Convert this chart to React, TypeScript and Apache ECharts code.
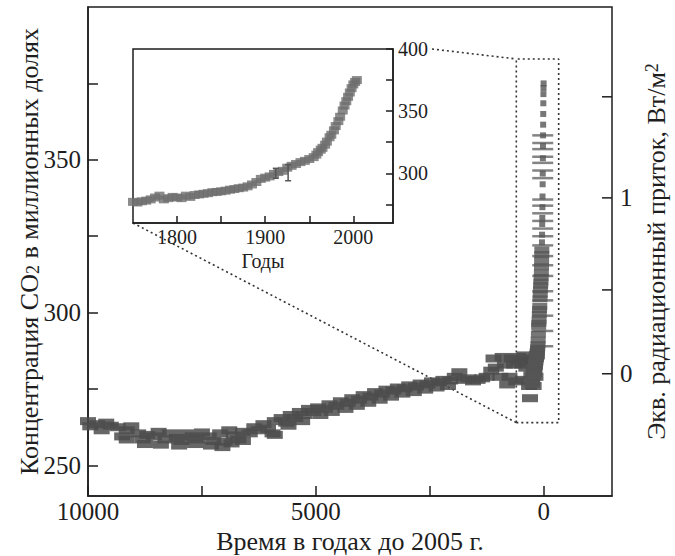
import React, { useEffect, useRef } from "react";
import * as echarts from "echarts";

// ---------- Data ----------
// Pre-industrial ice-core CO2 (years before 2005, ppm)
const iceYears = [
  10000, 9950, 9800, 9700, 9600, 9500, 9350, 9250, 9150, 9050, 8900, 8800, 8700, 8550, 8450, 8300,
  8200, 8050, 7950, 7850, 7700, 7600, 7500, 7350, 7250, 7100, 7000, 6900, 6800, 6700, 6600, 6450,
  6350, 6250, 6150, 6050, 5950, 5900, 5750, 5650, 5550, 5450, 5350, 5250, 5150, 5050, 4950, 4800,
  4700, 4550, 4450, 4300, 4200, 4050, 3950, 3800, 3700, 3550, 3450, 3300, 3200, 3050, 2950, 2800,
  2700, 2550, 2450, 2300, 2200, 2050, 1950, 1850, 1750, 1650, 1550, 1450, 1350, 1250, 1150, 1050,
  950, 850, 750, 650, 600, 520, 450, 380, 320, 300, 270,
  // second row of overlapping cores
  9150, 8750, 8400, 8000, 7650, 7300, 7050, 6850, 6600, 5900, 5600, 5300, 4900, 4650, 4350, 4100,
  3850, 3600, 3350, 3100, 2850, 2600, 2350, 2100, 1100, 900, 800, 700, 560, 480, 420, 350, 250,
  220, 200, 180, 150,
];
const icePpm = [
  264.5, 262.8, 263.5, 261.5, 264, 263, 262.5, 259.5, 261.5, 262.8, 260.5, 258.5, 260, 259.5, 261, 258.5,
  260.5, 259, 258, 260.5, 259.5, 258.5, 260.8, 259.5, 258, 260.5, 257.8, 261.5, 259.8, 258.5, 261, 260.5,
  262.5, 261.5, 263.5, 262, 260.5, 264.5, 265.5, 264, 266.5, 265.5, 267.5, 266.5, 268.5, 267.5, 269, 268.5,
  270, 269.5, 271, 270.5, 272, 271.5, 273, 272.5, 274, 273.5, 274.8, 274.5, 275.5, 275.2, 276.2, 275.8,
  276.8, 276.5, 277.5, 277.2, 278, 277.8, 279, 280.5, 278, 278.5, 277.5, 278, 278.5, 279, 281, 282,
  279, 283, 279, 283, 277.5, 284, 278, 282, 276, 272, 279.5,
  258.5, 257, 256.8, 256.5, 257, 256.5, 256, 257.2, 258, 260, 263, 264.5, 266.5, 267.5, 268.5, 269.5,
  270.5, 271.5, 272.5, 273.5, 274, 274.8, 275.5, 276, 285, 285.5, 276.5, 285, 285.5, 283, 286, 284, 285,
  276, 282.5, 279, 286,
];

// Industrial era (calendar year, ppm) — shown in the inset and in the spike
const indYears = [
  1750, 1755, 1760, 1765, 1770, 1775, 1780, 1785, 1790, 1795, 1800, 1805, 1810, 1815, 1820, 1825,
  1830, 1835, 1840, 1845, 1850, 1855, 1860, 1865, 1870, 1875, 1880, 1885, 1890, 1895, 1900, 1905,
  1910, 1915, 1920, 1925, 1930, 1935, 1940, 1945, 1950, 1955, 1958, 1960, 1963, 1965, 1968, 1970,
  1973, 1975, 1978, 1980, 1983, 1985, 1988, 1990, 1992, 1994, 1996, 1998, 2000, 2002, 2004,
];
const indPpm = [
  277, 276.5, 277.5, 278, 279, 280.5, 282, 279, 280, 281, 280.5, 280, 282, 281, 282.5, 283,
  283.5, 284, 284.8, 285, 285.5, 286, 286.8, 287.3, 288, 288.5, 289.5, 291, 293, 295.5, 296.5, 297.5,
  299.5, 301, 302, 304.5, 306, 307.5, 309, 310, 311.5, 313, 315, 317, 319, 320.5, 323, 325.5,
  329, 331, 334.5, 338, 342, 345.5, 350.5, 354.5, 358, 361.5, 365, 368.5, 371.5, 373.5, 375,
];

// Inset error bars: year, low, high (ppm)
const errYears = [1912, 1926];
const errLow = [296, 294];
const errHigh = [304, 307];

// Horizontal uncertainty dashes seen on the spike (years before 2005, ppm)
const dashYear = 20;
const dashPpm = [
  358, 355.5, 353.5, 351, 349, 346.5, 344, 337, 335, 332.5, 330, 327.5, 325, 322, 318.5, 315.5,
  312, 307, 304, 299, 294, 289,
];

// Zoom box in main panel (years before 2005, ppm)
const zoomBoxYears = [600, -330];
const zoomBoxPpm = [264, 383];

// Axis ticks
const mainXTicks = [0, 2500, 5000, 7500, 10000];
const mainXLabels = [0, 5000, 10000];
const mainYTicks = [250, 275, 300, 325, 350, 375];
const mainYLabels = [250, 300, 350];
const forcingTicks = [0, 0.5, 1, 1.5];
const forcingLabels = [0, 1];
const insetXTicks = [1800, 1850, 1900, 1950, 2000];
const insetXLabels = [1800, 1900, 2000];
const insetYTicks = [275, 300, 325, 350, 375, 400];
const insetYLabels = [300, 350, 400];

const C0 = 280; // reference concentration for forcing
const forcingToPpm = (f: number) => C0 * Math.exp(f / 5.35);

const FONT = "Liberation Serif";
const INK = "#1e1e1e";
const TICK_FS = 25;
const NAME_FS = 26;
const INSET_FS = 20;
const X_MIN = -1500;
const X_MAX = 10000;

export default function App() {
  const ref = useRef<HTMLDivElement>(null);

  useEffect(() => {
    const chart = echarts.init(ref.current!, null, { renderer: "svg" });

    const iceData = iceYears.map((y, i) => [y, icePpm[i]]);
    const spikeData = indYears.map((y, i) => [2005 - y, indPpm[i]]);
    const insetData = indYears.map((y, i) => [y, indPpm[i]]);
    const errData = errYears.map((y, i) => [y, errLow[i], errHigh[i]]);
    const dashData = dashPpm.map((p) => [dashYear, p]);
    const forcingTickData = forcingTicks.map((f) => [X_MIN, forcingToPpm(f), forcingLabels.indexOf(f) >= 0 ? String(f) : ""]);
    const boxData = [
      [zoomBoxYears[0], zoomBoxPpm[0]],
      [zoomBoxYears[1], zoomBoxPpm[0]],
      [zoomBoxYears[1], zoomBoxPpm[1]],
      [zoomBoxYears[0], zoomBoxPpm[1]],
      [zoomBoxYears[0], zoomBoxPpm[0]],
    ];

    const labelStyle = (size: number) => ({
      fontFamily: FONT,
      fontSize: size,
      color: INK,
    });
    const line = { show: true, onZero: false, lineStyle: { color: INK, width: 1.5 } };
    const plain = (v: number) => String(v);

    const option: any = {
      animation: false,
      backgroundColor: "#fff",
      grid: [
        {
          left: 88,
          top: 7,
          right: 63,
          bottom: 60,
          outerBoundsMode: "none",
          containLabel: false,
          show: true,
          borderColor: INK,
          borderWidth: 1.5,
          backgroundColor: "transparent",
        },
        {
          left: 133,
          top: 49,
          width: 260,
          height: 174,
          outerBoundsMode: "none",
          containLabel: false,
          show: true,
          borderColor: INK,
          borderWidth: 1.5,
          backgroundColor: "transparent",
        },
      ],
      xAxis: [
        {
          gridIndex: 0,
          type: "value",
          inverse: true,
          min: X_MIN,
          max: X_MAX,
          axisLine: line,
          axisTick: {
            show: true,
            inside: true,
            length: 10,
            customValues: mainXTicks,
            lineStyle: { color: INK, width: 1.5 },
          },
          axisLabel: {
            ...labelStyle(TICK_FS),
            lineHeight: 20,
            margin: 5,
            customValues: mainXLabels,
            formatter: plain,
          },
          splitLine: { show: false },
          name: "Время в годах до 2005 г.",
          nameLocation: "middle",
          nameGap: 34.5,
          nameMoveOverlap: false,
          nameTextStyle: { ...labelStyle(NAME_FS), lineHeight: 22 },
        },
        {
          gridIndex: 1,
          type: "value",
          min: 1750,
          max: 2045,
          axisLine: line,
          axisTick: {
            show: true,
            inside: true,
            length: 7,
            customValues: insetXTicks,
            lineStyle: { color: INK, width: 1.5 },
          },
          axisLabel: { ...labelStyle(INSET_FS), margin: 4, customValues: insetXLabels, formatter: plain },
          splitLine: { show: false },
          name: "Годы",
          nameLocation: "middle",
          nameGap: 28,
          nameMoveOverlap: false,
          nameTextStyle: labelStyle(INSET_FS),
        },
      ],
      yAxis: [
        {
          gridIndex: 0,
          type: "value",
          min: 240,
          max: 400,
          axisLine: line,
          axisTick: {
            show: true,
            inside: true,
            length: 10,
            customValues: mainYTicks,
            lineStyle: { color: INK, width: 1.5 },
          },
          axisLabel: { ...labelStyle(TICK_FS), margin: 7, customValues: mainYLabels, formatter: plain },
          splitLine: { show: false },
          name: "Концентрация CO{sub|2} в миллионных долях",
          nameLocation: "middle",
          nameRotate: 90,
          nameGap: 46,
          nameMoveOverlap: false,
          nameTextStyle: {
            ...labelStyle(NAME_FS),
            rich: {
              sub: { fontFamily: FONT, fontSize: 18, color: INK, verticalAlign: "bottom" },
            },
          },
        },
        {
          // right axis: only carries the title; ticks and labels are drawn by a custom series
          gridIndex: 0,
          type: "value",
          position: "right",
          min: 240,
          max: 400,
          axisLine: { show: false, onZero: false },
          axisTick: { show: false },
          axisLabel: { show: false },
          splitLine: { show: false },
          name: "Экв. радиационный приток, Вт/м{sup|2}",
          nameLocation: "middle",
          nameRotate: 90,
          nameGap: 31,
          nameMoveOverlap: false,
          nameTextStyle: {
            ...labelStyle(NAME_FS),
            rich: {
              sup: { fontFamily: FONT, fontSize: 18, color: INK, verticalAlign: "top" },
            },
          },
        },
        {
          gridIndex: 1,
          type: "value",
          position: "right",
          min: 260,
          max: 400,
          axisLine: line,
          axisTick: {
            show: true,
            inside: true,
            length: 7,
            customValues: insetYTicks,
            lineStyle: { color: INK, width: 1.5 },
          },
          axisLabel: { ...labelStyle(INSET_FS), margin: 5, customValues: insetYLabels, formatter: plain },
          splitLine: { show: false },
        },
      ],
      series: [
        {
          type: "line",
          xAxisIndex: 0,
          yAxisIndex: 0,
          data: boxData,
          symbol: "none",
          silent: true,
          lineStyle: { color: "#333", width: 1.6, type: [2, 3] },
          z: 1,
        },
        {
          type: "scatter",
          xAxisIndex: 0,
          yAxisIndex: 0,
          data: iceData,
          symbol: "rect",
          symbolSize: [16, 8],
          itemStyle: { color: "#4c4c4c", opacity: 0.85 },
          z: 3,
        },
        {
          type: "scatter",
          xAxisIndex: 0,
          yAxisIndex: 0,
          data: dashData,
          symbol: "rect",
          symbolSize: [21, 2.5],
          itemStyle: { color: "#6e6e6e", opacity: 0.85 },
          z: 3,
        },
        {
          type: "scatter",
          xAxisIndex: 0,
          yAxisIndex: 0,
          data: spikeData,
          symbol: "rect",
          symbolSize: (v: number[]) => (v[1] < 322 ? [15, 7] : [6, 6]),
          itemStyle: { color: "#555", opacity: 0.8 },
          z: 4,
        },
        {
          // right-axis ticks and labels of the forcing scale (W/m²)
          type: "custom",
          xAxisIndex: 0,
          yAxisIndex: 0,
          data: forcingTickData,
          silent: true,
          clip: false,
          renderItem: (params: any, api: any) => {
            const p = api.coord([api.value(0), api.value(1)]);
            const idx = params.dataIndex;
            const label = forcingTickData[idx][2] as string;
            const children: any[] = [
              {
                type: "line",
                shape: { x1: p[0], y1: p[1], x2: p[0] - 10, y2: p[1] },
                style: { stroke: INK, lineWidth: 1.5 },
              },
            ];
            if (label) {
              children.push({
                type: "text",
                x: p[0] + 8,
                y: p[1],
                style: {
                  text: label,
                  fontFamily: FONT,
                  fontSize: TICK_FS,
                  fill: INK,
                  align: "left",
                  verticalAlign: "middle",
                },
              });
            }
            return { type: "group", children };
          },
          z: 5,
        },
        {
          type: "scatter",
          xAxisIndex: 1,
          yAxisIndex: 2,
          data: insetData,
          symbol: "rect",
          symbolSize: [10, 8],
          itemStyle: { color: "#6e6e6e", opacity: 0.8 },
          z: 3,
        },
        {
          type: "custom",
          xAxisIndex: 1,
          yAxisIndex: 2,
          data: errData,
          encode: { x: 0, y: [1, 2] },
          renderItem: (params: any, api: any) => {
            const x = api.value(0);
            const p1 = api.coord([x, api.value(1)]);
            const p2 = api.coord([x, api.value(2)]);
            const w = 3;
            const st = { stroke: "#555", lineWidth: 1.5 };
            return {
              type: "group",
              children: [
                { type: "line", shape: { x1: p1[0], y1: p1[1], x2: p2[0], y2: p2[1] }, style: st },
                { type: "line", shape: { x1: p1[0] - w, y1: p1[1], x2: p1[0] + w, y2: p1[1] }, style: st },
                { type: "line", shape: { x1: p2[0] - w, y1: p2[1], x2: p2[0] + w, y2: p2[1] }, style: st },
              ],
            };
          },
          z: 4,
        },
      ],
    };

    chart.setOption(option);

    // Dotted connectors between the inset and the zoom box
    const insetBL = chart.convertToPixel({ gridIndex: 1 }, [1750, 260]) as number[];
    const insetTR = chart.convertToPixel({ gridIndex: 1 }, [2045, 400]) as number[];
    const boxBL = chart.convertToPixel({ gridIndex: 0 }, [zoomBoxYears[0], zoomBoxPpm[0]]) as number[];
    const boxTL = chart.convertToPixel({ gridIndex: 0 }, [zoomBoxYears[0], zoomBoxPpm[1]]) as number[];
    const dotted = { stroke: "#333", lineWidth: 1.6, lineDash: [2, 3], fill: null };
    chart.setOption({
      graphic: [
        {
          type: "polyline",
          silent: true,
          shape: { points: [insetBL, boxBL] },
          style: dotted,
        },
        {
          type: "polyline",
          silent: true,
          shape: { points: [[insetTR[0] + 39, insetTR[1]], boxTL] },
          style: dotted,
        },
      ],
    });

    return () => chart.dispose();
  }, []);

  return (
    <div
      ref={ref}
      style={{ position: "fixed", left: 0, top: 0, width: 675, height: 556, background: "#fff" }}
    />
  );
}
